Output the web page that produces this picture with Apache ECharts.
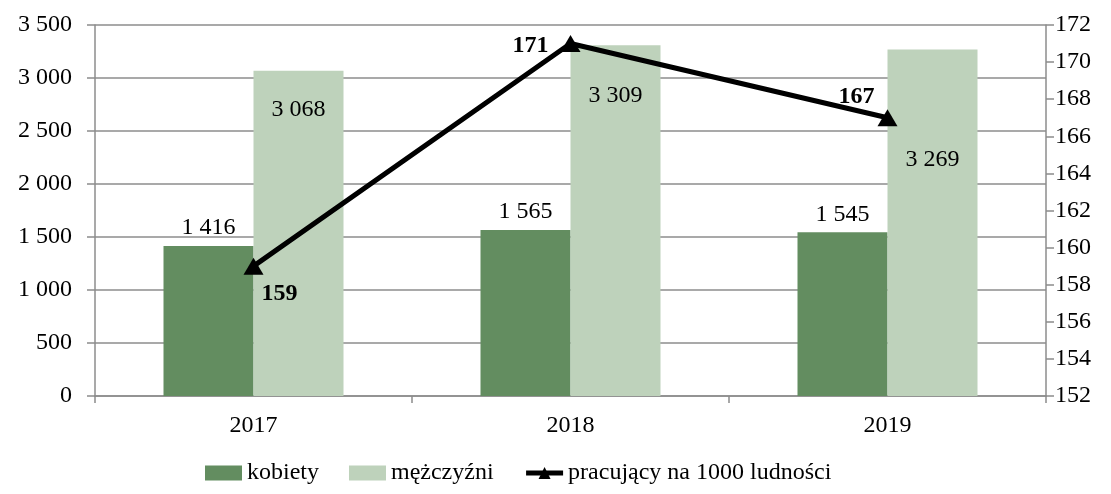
<!DOCTYPE html>
<html>
<head>
<meta charset="utf-8">
<script src="https://cdn.jsdelivr.net/npm/echarts@6/dist/echarts.min.js"></script>
<style>html,body{margin:0;padding:0;background:#fff;}#c{width:1111px;height:494px;}</style>
</head>
<body>
<div id="c"></div>
<script>
const categories = ['2017', '2018', '2019'];
const kobiety = [1416, 1565, 1545];
const mezczyzni = [3068, 3309, 3269];
const pracujacy = [159, 171, 167];
const leftTicks = {min: 0, max: 3500, interval: 500};
const rightTicks = {min: 152, max: 172, interval: 2};

const fmt = v => String(v).replace(/\B(?=(\d{3})+(?!\d))/g, ' ');
const FONT = '"Liberation Serif", "Times New Roman", serif';
const gridColor = '#8c8c8c';
const FS = 24;

const menLabelOffsets = [27, 38, 98];
const lineLabelOffsets = [[26, 28], [-40, 2], [-31, -21]];

const chart = echarts.init(document.getElementById('c'));
chart.setOption({
  animation: false,
  textStyle: {fontFamily: FONT},
  grid: {left: 95, right: 65, top: 25, bottom: 98, containLabel: false},
  legend: {
    bottom: 4,
    left: 200,
    itemWidth: 37,
    itemHeight: 15,
    itemGap: 30,
    textStyle: {fontFamily: FONT, fontSize: FS, color: '#000'},
    data: [
      {name: 'kobiety', icon: 'rect'},
      {name: 'mężczyźni', icon: 'rect'},
      {name: 'pracujący na 1000 ludności', lineStyle: {width: 5, color: '#000'}, itemStyle: {color: '#000'}}
    ]
  },
  xAxis: {
    type: 'category',
    data: categories,
    axisLine: {lineStyle: {color: gridColor, width: 1.5}},
    axisTick: {show: true, length: 7, alignWithLabel: false, lineStyle: {color: gridColor, width: 1.5}},
    axisLabel: {fontFamily: FONT, fontSize: FS, color: '#000', margin: 18}
  },
  yAxis: [
    {
      type: 'value',
      min: leftTicks.min, max: leftTicks.max, interval: leftTicks.interval,
      axisLine: {show: true, lineStyle: {color: gridColor, width: 1.5}},
      axisTick: {show: true, length: 8, lineStyle: {color: gridColor, width: 1.5}},
      splitLine: {show: true, lineStyle: {color: gridColor, width: 1.5}},
      axisLabel: {fontFamily: FONT, fontSize: FS, color: '#000', margin: 23, formatter: fmt}
    },
    {
      type: 'value',
      min: rightTicks.min, max: rightTicks.max, interval: rightTicks.interval,
      position: 'right',
      axisLine: {show: true, lineStyle: {color: gridColor, width: 1.5}},
      axisTick: {show: true, length: 8, lineStyle: {color: gridColor, width: 1.5}},
      splitLine: {show: false},
      axisLabel: {fontFamily: FONT, fontSize: FS, color: '#000', margin: 9}
    }
  ],
  series: [
    {
      name: 'kobiety',
      type: 'bar',
      barWidth: 90,
      barGap: '0%',
      itemStyle: {color: '#638D60'},
      label: {show: true, position: 'top', distance: 6, fontFamily: FONT, fontSize: FS, color: '#000', formatter: p => fmt(p.value)},
      data: kobiety
    },
    {
      name: 'mężczyźni',
      type: 'bar',
      barWidth: 90,
      barGap: '0%',
      itemStyle: {color: '#BED2BB'},
      data: mezczyzni.map((v, i) => ({
        value: v,
        label: {show: true, position: 'insideTop', distance: 0, offset: [0, menLabelOffsets[i]], fontFamily: FONT, fontSize: FS, color: '#000', formatter: p => fmt(p.value)}
      }))
    },
    {
      name: 'pracujący na 1000 ludności',
      type: 'line',
      yAxisIndex: 1,
      z: 5,
      symbol: 'triangle',
      symbolSize: [20, 17],
      lineStyle: {color: '#000', width: 5},
      itemStyle: {color: '#000'},
      data: pracujacy.map((v, i) => ({
        value: v,
        label: {show: true, position: 'inside', offset: lineLabelOffsets[i], fontFamily: FONT, fontSize: FS, fontWeight: 'bold', color: '#000'}
      }))
    }
  ]
});
</script>
</body>
</html>
